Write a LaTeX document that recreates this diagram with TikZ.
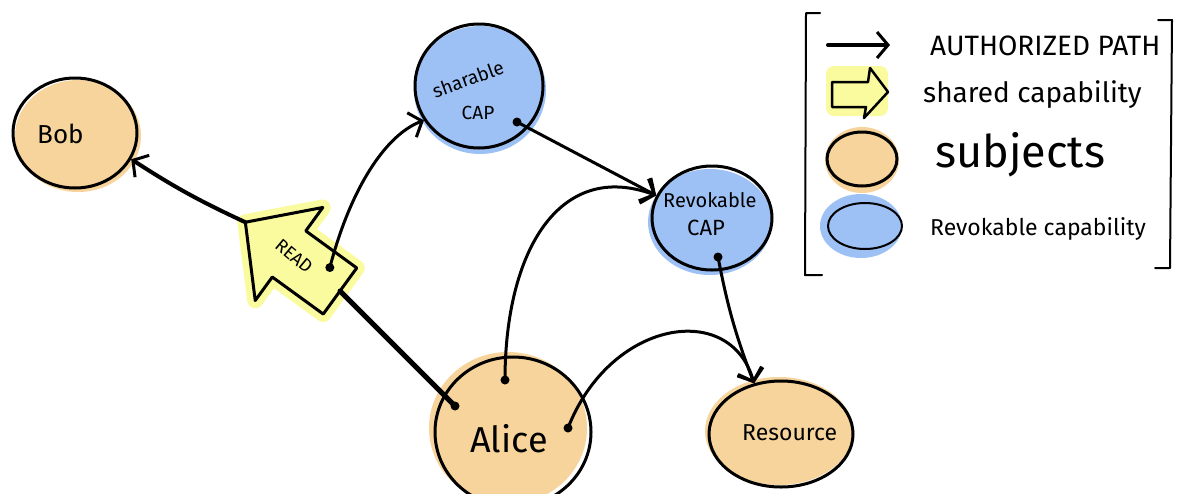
\documentclass[tikz,border=0pt]{standalone}
\usepackage{fontspec}
\setmainfont{Fira Sans}
\usetikzlibrary{shapes.geometric,arrows.meta}
\definecolor{subj}{HTML}{F6D49C}
\definecolor{capb}{HTML}{9DC1F5}
\definecolor{shr}{HTML}{FAFA9E}
\tikzset{
 ink/.style={line width=3pt, line cap=round, line join=round},
 blob/.style={ellipse, draw, ink, inner sep=0pt},
 conn/.style={ink, -{Straight Barb[length=11pt,width=26pt,line width=3pt]}},
 dotc/.style={circle, fill, inner sep=0pt, minimum size=9pt},
 lbl/.style={inner sep=0pt},
 fs/.style={font=\fontsize{#1}{#1}\selectfont},
}
\begin{document}
\begin{tikzpicture}[x=1pt,y=-1pt]
\useasboundingbox[fill=white] (0,0) rectangle (1188,493);
% colour halos
\fill[subj] (78,136) ellipse [x radius=63pt, y radius=56pt];
\fill[capb] (480,90) ellipse [x radius=66pt, y radius=64pt];
\fill[capb] (710,222) ellipse [x radius=62pt, y radius=53pt];
\fill[subj] (508,428) ellipse [x radius=79pt, y radius=76pt];
\fill[subj] (779,431) ellipse [x radius=74pt, y radius=54pt];
% nodes
\node[blob, minimum width=124pt, minimum height=110pt] (bob) at (75,133) {};
\node[blob, minimum width=128pt, minimum height=124pt] (sharable) at (479,86) {};
\node[blob, minimum width=120pt, minimum height=104pt] (revok) at (712,218) {};
\node[blob, minimum width=156pt, minimum height=150pt] (alice) at (513,432) {};
\node[blob, minimum width=144pt, minimum height=106pt] (res) at (781,434) {};
% labels
\node[lbl, fs=19, anchor=base west] (bobt) at (37,143) {\fontsize{26}{26}\selectfont Bob};
\node[lbl, fs=19, rotate=20] (shat) at (468,79) {sharable};
\node[lbl, fs=19] (shac) at (478,113) {CAP};
\node[lbl, fs=20, anchor=base west] (revt) at (663,207) {Revokable};
\node[lbl, fs=22, anchor=base west] (revc) at (687,235) {CAP};
\node[lbl, fs=36, anchor=base west] (alit) at (470,452) {Alice};
\node[lbl, fs=23, anchor=base west] (rest) at (742,440) {Resource};
% READ block arrow
\begin{scope}[shift={(340,291)}, rotate=144]
 \draw[shr, line width=16pt, line join=round] (0,-28.5) -- (63,-28.5) -- (63,-57.5) -- (117,0) -- (63,57.5) -- (63,28.5) -- (0,28.5) -- cycle;
 \filldraw[fill=shr, ink] (0,-28.5) -- (63,-28.5) -- (63,-57.5) -- (117,0) -- (63,57.5) -- (63,28.5) -- (0,28.5) -- cycle;
 \coordinate (readtail) at (0,0);
 \coordinate (readtip) at (117,0);
 \coordinate (readdotpos) at (22,13);
\end{scope}
\node[lbl, fs=18, rotate=-40] (readt) at (294,256) {READ};
% dots
\node[dotc] (rd) at (readdotpos) {};
\node[dotc] (sd) at (517,122) {};
\node[dotc] (vd) at (718,257) {};
\node[dotc] (ad1) at (455,406) {};
\node[dotc] (ad2) at (505,380) {};
\node[dotc] (ad3) at (568,428) {};
% connectors
\draw[conn, line width=4pt] (readtip) to[bend left=4] (bob.-25);
\draw[ink, line width=5pt] (ad1.center) -- (readtail);
\draw[conn] (rd.center) .. controls (350,190) and (385,135) .. (sharable.212);
\draw[conn] (sd.center) -- (revok.158);
\draw[conn] (ad2.center) .. controls (505,250) and (560,160) .. (revok.158);
\draw[conn] (vd.center) to[bend right=5] (res.118);
\draw[conn] (ad3.center) .. controls (610,320) and (730,300) .. (res.118);
% legend frame
\draw[ink, line width=2pt] (820,13) -- (806,13) -- (805,275) -- (822,275);
\draw[ink, line width=2pt] (1158,20) -- (1172,20) -- (1170,268) -- (1155,268);
% legend items
\coordinate (la) at (828,45);
\coordinate (lb) at (890,45);
\draw[conn, line width=4pt] (la) -- (lb);
\fill[shr, rounded corners=8pt] (826,66) rectangle (888,116);
\filldraw[fill=shr, ink, line width=2.5pt] (832,82) -- (868,82) -- (870,68) -- (888,92) -- (864,118) -- (866,107) -- (832,107) -- cycle;
\fill[subj] (862,160) ellipse [x radius=37pt, y radius=33pt];
\node[blob, minimum width=70pt, minimum height=54pt] (lsub) at (862,159) {};
\fill[capb] (861,226) ellipse [x radius=41pt, y radius=32pt];
\node[blob, line width=2pt, minimum width=74pt, minimum height=46pt] (lrev) at (865,226) {};
\node[lbl, fs=28, anchor=base west] (lt1) at (930,55) {AUTHORIZED PATH};
\node[lbl, fs=28, anchor=base west] (lt2) at (923,102) {shared capability};
\node[lbl, fs=45, anchor=base west] (lt3) at (935,167) {subjects};
\node[lbl, fs=23, anchor=base west] (lt4) at (930,235) {Revokable capability};
\end{tikzpicture}
\end{document}
